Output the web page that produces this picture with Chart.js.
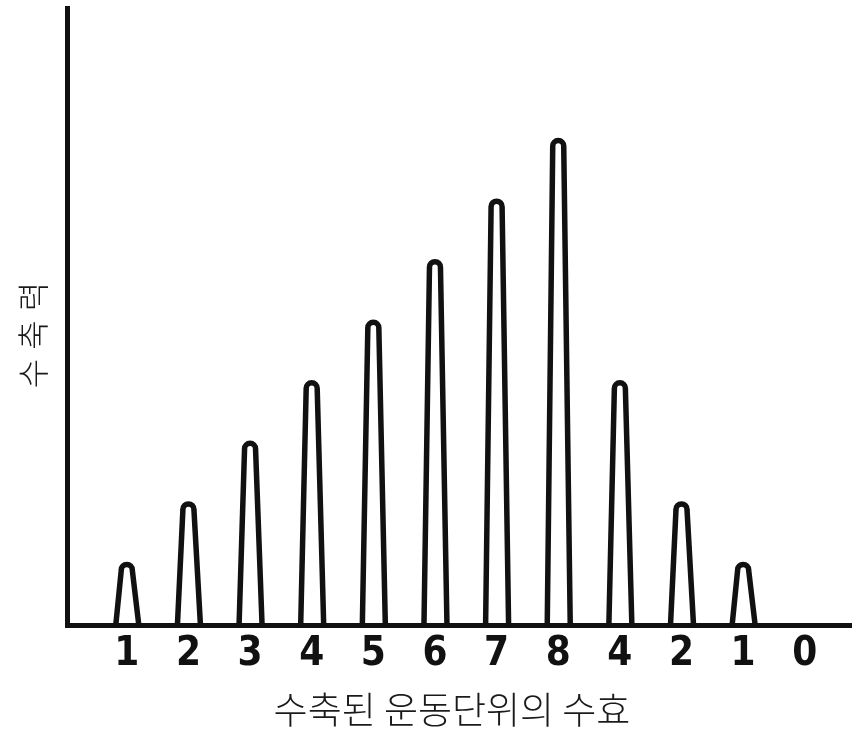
<!DOCTYPE html>
<html>
<head>
<meta charset="utf-8">
<style>
  html, body { margin: 0; padding: 0; background: #fff; }
  canvas { display: block; }
</style>
<script src="https://cdn.jsdelivr.net/npm/chart.js@4.4.1/dist/chart.umd.min.js"></script>
</head>
<body>
<canvas id="c" width="856" height="731"></canvas>
<script>
// number of contracted motor units under each twitch
const unitLabels = ['1', '2', '3', '4', '5', '6', '7', '8', '4', '2', '1', '0'];
// contraction force of each twitch (same scale as the unit count)
const contractionForce = [1, 2, 3, 4, 5, 6, 7, 8, 4, 2, 1, 0];
const xTitle = '수축된 운동단위의 수효';
const yTitle = '수축력';

const ink = '#111';

function labelAt(v) {
  const k = Math.round(v);
  if (Math.abs(v - k) > 1e-6 || k < 0 || k >= unitLabels.length) return null;
  return unitLabels[k];
}

// each twitch is drawn as a tapered arch standing on its bar's base
const archPlugin = {
  id: 'arches',
  afterDatasetsDraw(chart) {
    const ctx = chart.ctx;
    const meta = chart.getDatasetMeta(0);
    ctx.save();
    ctx.strokeStyle = ink;
    ctx.lineWidth = 5.5;
    ctx.lineJoin = 'round';
    ctx.lineCap = 'round';
    meta.data.forEach((bar, i) => {
      if (!contractionForce[i]) return;
      const { x, y, base } = bar.getProps(['x', 'y', 'base'], true);
      const r = 5.5;
      ctx.beginPath();
      ctx.moveTo(x - 11, base);
      ctx.lineTo(x - r, y + r);
      ctx.arc(x, y + r, r, Math.PI, 0);
      ctx.lineTo(x + 12, base);
      ctx.stroke();
    });
    ctx.restore();
  }
};

// axis titles: the horizontal one under the numbers, the vertical one reading upwards
const titlePlugin = {
  id: 'axisTitles',
  afterDraw(chart) {
    const ctx = chart.ctx;
    ctx.save();
    ctx.fillStyle = '#1a1a1a';
    ctx.textBaseline = 'middle';

    ctx.font = '300 37px "Noto Sans CJK KR", sans-serif';
    ctx.textAlign = 'center';
    ctx.fillText(xTitle, 452, 710);

    ctx.translate(33, 335);
    ctx.rotate(-Math.PI / 2);
    ctx.font = '300 32px "Noto Sans CJK KR", sans-serif';
    ctx.letterSpacing = '9px';
    const w = ctx.measureText(yTitle).width;
    ctx.textAlign = 'left';
    ctx.fillText(yTitle, -w / 2 + 4.5, 0);
    ctx.restore();
  }
};

new Chart(document.getElementById('c'), {
  type: 'bar',
  data: {
    datasets: [{
      data: contractionForce.map((v, i) => ({ x: i, y: v })),
      backgroundColor: 'rgba(0,0,0,0)',
      borderWidth: 0
    }]
  },
  options: {
    responsive: false,
    animation: false,
    devicePixelRatio: 1,
    layout: { padding: { top: 8, right: 5, left: 0, bottom: 0 } },
    plugins: { legend: { display: false }, tooltip: { enabled: false } },
    scales: {
      x: {
        type: 'linear',
        offset: false,
        min: -0.97,
        max: 11.75,
        grid: { display: false, drawTicks: false },
        border: { display: true, color: ink, width: 5 },
        // one tick under every twitch, including the empty last one
        afterBuildTicks(scale) {
          scale.ticks = unitLabels.map((_, i) => ({ value: i }));
        },
        ticks: {
          autoSkip: false,
          maxRotation: 0,
          padding: 6,
          color: ink,
          font: { family: '"Liberation Sans Narrow", "DejaVu Sans Condensed", "DejaVu Sans", sans-serif', size: 40, weight: 'bold' },
          callback: (v) => labelAt(v)
        },
        afterFit(scale) { scale.height = 106; }
      },
      y: {
        min: 0,
        max: 10.19,
        grid: { display: false, drawTicks: false },
        border: { display: true, color: ink, width: 5 },
        ticks: { display: false },
        afterFit(scale) { scale.width = 67; }
      }
    }
  },
  plugins: [archPlugin, titlePlugin]
});
</script>
</body>
</html>
